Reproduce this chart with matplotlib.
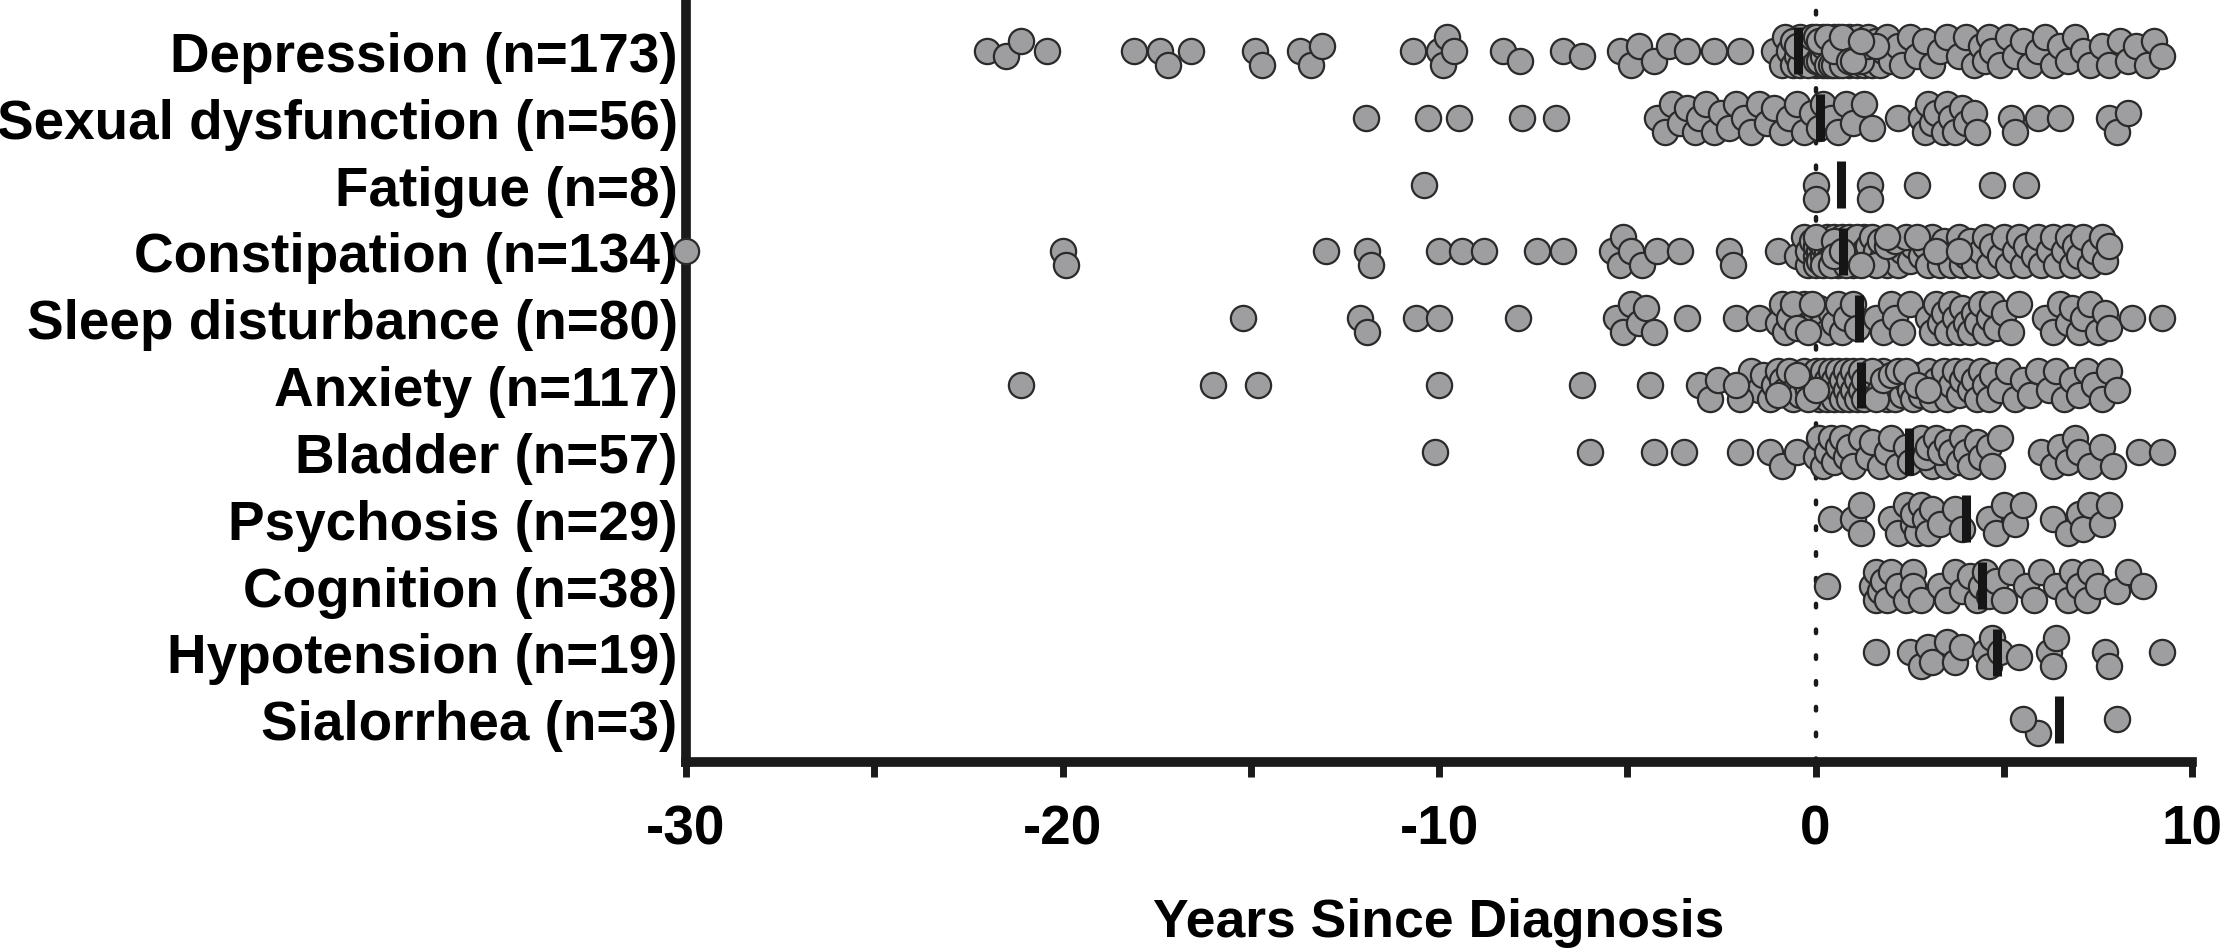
import numpy as np
import matplotlib
matplotlib.use("Agg")
import matplotlib.pyplot as plt

plt.rcParams['font.family'] = ['Liberation Sans', 'DejaVu Sans']
plt.rcParams['axes.unicode_minus'] = False

categories = ["Depression (n=173)", "Sexual dysfunction (n=56)", "Fatigue (n=8)",
              "Constipation (n=134)", "Sleep disturbance (n=80)", "Anxiety (n=117)",
              "Bladder (n=57)", "Psychosis (n=29)", "Cognition (n=38)",
              "Hypotension (n=19)", "Sialorrhea (n=3)"]

depression = [
    -22.0, -21.5, -21.1, -20.4, -18.1, -17.4, -17.2, -16.6, -14.9, -14.7, -13.7, -13.4, -13.1,
    -10.7, -10.0, -9.9, -9.8, -9.6, -8.3, -7.85, -6.7, -6.2,
    -5.2, -4.9, -4.7, -4.3, -3.9, -3.4, -2.7, -2.0, -1.1,
    -0.9, -0.8, -0.7, -0.6, -0.5, -0.4, -0.3, -0.3, -0.2, -0.2,
    -0.1, -0.1, 0.0, 0.0, 0.0, 0.0, 0.1, 0.1, 0.1, 0.2,
    0.2, 0.2, 0.3, 0.3, 0.3, 0.3, 0.4, 0.4, 0.4, 0.4,
    0.5, 0.5, 0.5, 0.5, 0.6, 0.6, 0.6, 0.6, 0.7, 0.7,
    0.7, 0.7, 0.8, 0.8, 0.8, 0.8, 0.9, 0.9, 0.9, 1.0,
    1.0, 1.0, 1.1, 1.1, 1.1, 1.2, 1.2, 1.3, 1.3, 1.4,
    1.4, 1.5, 1.5, 1.6, 1.6, 1.7, 1.8, 1.9, 2.0, 2.2,
    -0.6, -0.4, -0.2, 0.0, 0.0, 0.1, 0.2, 0.3, 0.4, 0.5,
    0.5, 0.6, 0.6, 0.7, 0.8, 0.9, 1.0, 1.2, 1.4, 1.6,
    -0.5, -0.1, 0.0, 0.2, 0.3, 0.4, 0.5, 0.6, 0.7, 0.9,
    0.1, 0.3, 0.5, 0.7, 0.9, 1.0, 1.2,
    2.3, 2.5, 2.7, 2.9, 3.1, 3.3, 3.5, 3.8, 4.0, 4.2,
    4.4, 4.5, 4.6, 4.7, 4.9, 5.1, 5.3, 5.5, 5.7, 5.9,
    6.1, 6.3, 6.5, 6.7, 6.9, 7.1, 7.3, 7.6, 7.8, 8.1,
    8.3, 8.5, 8.8, 9.0, 9.2]

sexual_dysfunction = [
    -11.95, -10.3, -9.46, -7.8, -6.9,
    -4.2, -4.0, -3.8, -3.6, -3.4, -3.2, -3.1, -2.9, -2.7, -2.5, -2.3,
    -2.1, -1.9, -1.7, -1.5, -1.3, -1.1, -0.9, -0.7, -0.5, -0.3, -0.1,
    0.1, 0.2, 0.4, 0.6, 0.8, 1.0, 1.3, 1.5, 2.2, 2.8, 2.9, 3.0, 3.1, 3.2,
    3.4, 3.5, 3.6, 3.7, 3.9, 4.0, 4.2, 4.3,
    5.2, 5.3, 5.9, 6.5, 7.8, 8.0, 8.3]

fatigue = [-10.4, 0.0, 0.0, 1.45, 1.45, 2.7, 4.7, 5.6]

constipation = [
    -30.0, -20.0, -19.9, -13.0, -11.9, -11.8, -10.0, -9.4, -8.8, -7.4, -6.7,
    -5.4, -5.2, -5.1, -4.9, -4.6, -4.2, -3.6, -2.3, -2.2, -1.0, -0.5,
    -0.3, -0.2, -0.2, -0.1, 0.0, 0.0, 0.0, 0.1, 0.1, 0.1,
    0.2, 0.2, 0.3, 0.3, 0.3, 0.4, 0.4, 0.5, 0.5, 0.5,
    0.6, 0.6, 0.6, 0.7, 0.7, 0.7, 0.8, 0.8, 0.9, 0.9,
    0.9, 1.0, 1.0, 1.0, 1.1, 1.1, 1.2, 1.2, 1.3, 1.4,
    0.0, 0.2, 0.4, 0.5, 0.6, 0.8, 1.0, 1.1, 1.3, 1.4,
    1.5, 1.6, 1.8, 1.9, 2.0, 2.2, 2.3, 2.5, 2.6, 2.8,
    2.9, 3.0, 3.1, 3.3, 3.4, 3.5, 3.6, 3.8, 3.9, 4.0,
    4.1, 4.2, 4.4, 4.5, 4.6, 4.7, 4.9, 5.0, 5.1, 5.3,
    5.4, 5.5, 5.6, 5.8, 5.9, 6.0, 6.2, 6.3, 6.4, 6.6,
    6.7, 6.8, 6.9, 7.0, 7.1, 7.3, 7.4, 7.6, 7.7, 7.8,
    1.6, 1.7, 1.9, 2.1, 2.4, 2.7, 0.5, 0.7, 1.2, 1.9, 3.2, 3.8]

sleep_disturbance = [
    -15.2, -12.1, -11.9, -10.6, -10.0, -7.9, -5.3, -5.1, -4.9, -4.7, -4.5, -4.3,
    -3.4, -2.1, -1.5, -1.0,
    -0.4, -0.3, -0.2, -0.1, 0.0, 0.0, 0.1, 0.2, 0.3, 0.4, 0.5, 0.6, 0.7, 0.8, 1.0, 1.1,
    1.6, 1.8, 2.0, 2.1, 2.3, 2.5,
    3.0, 3.1, 3.2, 3.3, 3.4, 3.5, 3.6, 3.7, 3.8, 3.9, 4.0, 4.1, 4.2, 4.3, 4.4, 4.5,
    4.6, 4.7, 4.8, 5.0, 5.2, 5.4,
    6.1, 6.3, 6.5, 6.7, 6.8, 7.0, 7.1, 7.3, 7.5, 7.7, 7.8, 8.4, 9.2,
    -0.9, -0.8, -0.7, -0.6, -0.5, -0.2, -0.1]

anxiety = [
    -21.1, -16.0, -14.8, -10.0, -6.2, -4.4, -3.1, -2.8, -2.6,
    -1.7, -1.5, -1.4, -1.2, -1.1, -1.0, -0.9, -0.8, -0.7, -0.6,
    -0.5, -0.4, -0.3, -0.3, -0.2, -0.1, 0.0, 0.0, 0.0, 0.1,
    0.1, 0.2, 0.2, 0.3, 0.3, 0.4, 0.4, 0.5, 0.5, 0.6,
    0.6, 0.7, 0.7, 0.8, 0.8, 0.9, 0.9, 1.0, 1.0, 1.1,
    1.1, 1.2, 1.2, 1.3, 1.3,
    1.5, 1.6, 1.7, 1.8, 1.9, 2.0, 2.1, 2.2, 2.3, 2.4,
    2.5, 2.6, 2.7, 2.8, 2.9, 3.0, 3.1, 3.2, 3.3, 3.4,
    3.5, 3.6, 3.7, 3.8, 3.9, 4.0, 4.1, 4.2, 4.3, 4.4,
    4.5, 4.6, 4.7, 4.9, 5.1, 5.3, 5.5, 5.7, 5.9, 6.2,
    6.4, 6.6, 6.8, 7.0, 7.2, 7.4, 7.6, 7.8, 8.0,
    1.5, 1.6, 1.8, 2.0, 2.2, 2.4, 2.7, 3.0, -0.2, 0.0, -0.5, -1.0, -2.0, -2.1]

bladder = [
    -10.1, -6.0, -4.3, -3.5, -2.0, -1.2, -0.9, -0.5,
    0.0, 0.1, 0.2, 0.3, 0.4, 0.5, 0.6, 0.7, 0.8, 0.9, 1.0, 1.2, 1.4, 1.5, 1.7, 1.9, 2.0, 2.2,
    2.4, 2.5, 3.1, 3.5,
    2.8, 2.9, 3.0, 3.2, 3.3, 3.5, 3.6, 3.8, 3.9, 4.0, 4.1, 4.3, 4.4, 4.6, 4.7, 4.9,
    6.0, 6.3, 6.5, 6.7, 6.9, 7.0, 7.3, 7.6, 7.9, 8.6, 9.2]

psychosis = [0.4, 1.0, 1.2, 1.2, 2.0, 2.2, 2.4, 2.6, 2.7, 2.6, 2.8, 2.9, 3.0, 3.1, 3.3,
             3.7, 3.9, 4.6, 4.8, 5.0, 5.3, 5.5, 6.3, 6.7, 7.0, 7.1, 7.3, 7.6, 7.8]

cognition = [0.3, 1.5, 1.6, 1.6, 1.7, 1.8, 1.9, 2.0, 2.2, 2.4, 2.6, 2.6, 2.8, 3.3, 3.5,
             3.7, 3.9, 4.1, 4.3, 4.4, 4.5, 4.6, 4.8, 5.0, 5.2, 5.6, 5.8, 6.0, 6.4, 6.7,
             6.8, 7.0, 7.2, 7.3, 7.5, 8.0, 8.3, 8.7]

hypotension = [1.6, 2.5, 2.8, 3.0, 3.1, 3.5, 3.7, 3.9, 4.5, 4.6, 4.7, 4.9, 5.4, 6.2,
               6.4, 6.3, 7.7, 7.8, 9.2]

sialorrhea = [5.9, 5.5, 8.0]

series = [depression, sexual_dysfunction, fatigue, constipation, sleep_disturbance,
          anxiety, bladder, psychosis, cognition, hypotension, sialorrhea]

xticks_major = [-30, -20, -10, 0, 10]
xticks_minor = [-25, -15, -5, 5]
xlabel = "Years Since Diagnosis"

# ---------------- layout ----------------
W, H, DPI = 2226, 953, 100
fig = plt.figure(figsize=(W / DPI, H / DPI), dpi=DPI)
L_PX, R_PX, B_PX = 686, 2192, 763
ax = fig.add_axes([L_PX / W, (H - B_PX) / H, (R_PX - L_PX) / W, B_PX / H])

XMIN, XMAX = -30, 10
YBOT, YTOP = 10.64, -0.776
ax.set_xlim(XMIN, XMAX)
ax.set_ylim(YBOT, YTOP)

px_per_x = (R_PX - L_PX) / (XMAX - XMIN)
px_per_y = B_PX / (YBOT - YTOP)


def swarm_offsets(vals, dmin=19.0, cands=(0, 5, -5, 10, -10, 14, -14)):
    vals = np.asarray(vals, dtype=float)
    order = np.argsort(vals, kind="stable")
    placed = []
    offs = np.zeros(len(vals))
    for i in order:
        x = vals[i] * px_per_x
        near = [(px, py) for px, py in placed if abs(px - x) < dmin]
        chosen, bestd = None, -1.0
        for c in cands:
            d = min([np.hypot(px - x, py - c) for px, py in near], default=1e9)
            if d >= dmin:
                chosen = c
                break
            if d > bestd:
                bestd, chosen = d, c
        offs[i] = chosen
        placed.append((x, chosen))
    return offs / px_per_y


ax.axvline(0, color="#1a1a1a", lw=3.2, ls=(0, (0.8, 5)), dash_capstyle="round",
           zorder=1, ymin=0, ymax=0.985)

for row, vals in enumerate(series):
    vals = np.asarray(vals, dtype=float)
    ys = row + swarm_offsets(vals)
    ax.scatter(vals, ys, s=330, facecolor="#9e9ea0", edgecolor="#2a2a2a",
               linewidth=1.6, zorder=3, clip_on=False)
    m = vals.mean()
    ax.plot([m, m], [row - 0.35, row + 0.35], color="#151515", lw=6.5,
            solid_capstyle="butt", zorder=4)

ax.set_yticks(range(len(categories)))
ax.set_yticklabels(categories, fontsize=39.5, fontweight="bold")
ax.tick_params(axis="y", length=0, pad=6)

ax.set_xticks(xticks_major)
ax.set_xticklabels([str(t) for t in xticks_major], fontsize=39.5, fontweight="bold")
ax.set_xticks(xticks_minor, minor=True)
ax.tick_params(axis="x", which="both", direction="out", length=11, width=5,
               color="#1a1a1a", pad=19)
ax.set_xlabel(xlabel, fontsize=38.5, fontweight="bold", labelpad=30)

for side in ("top", "right"):
    ax.spines[side].set_visible(False)
for side in ("left", "bottom"):
    ax.spines[side].set_linewidth(7)
    ax.spines[side].set_color("#1a1a1a")
    ax.spines[side].set_capstyle("projecting")

fig.savefig("out.png", dpi=DPI)
